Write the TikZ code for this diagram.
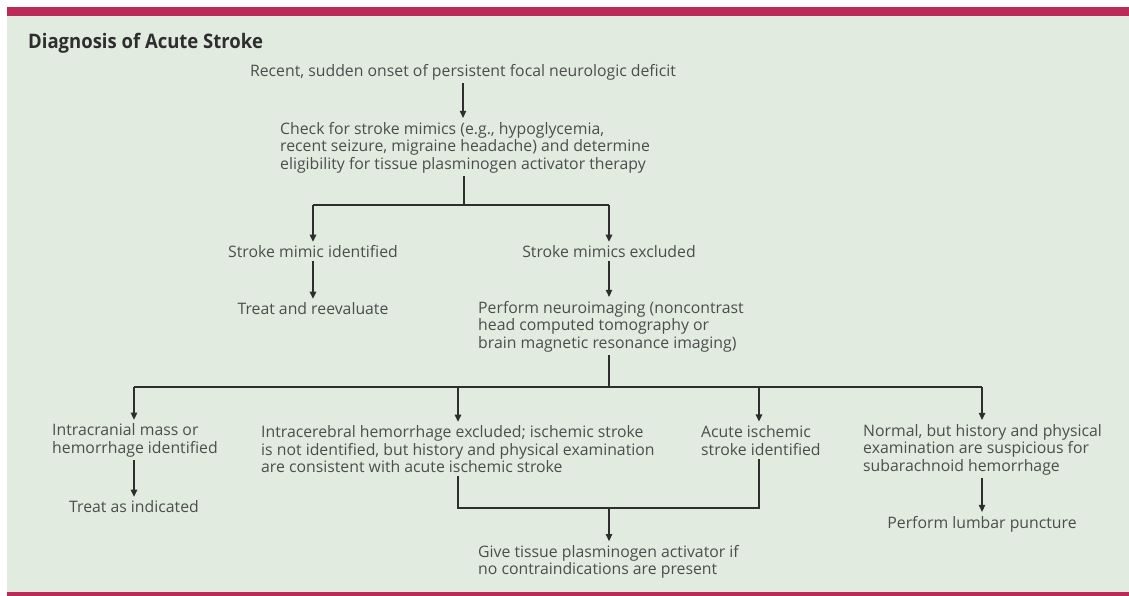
\documentclass[tikz,border=0pt]{standalone}
\usepackage{fontspec}
\setmainfont{Open Sans}
\newfontfamily\headfont[FakeStretch=0.925]{Open Sans}
\usetikzlibrary{arrows.meta,calc}
\definecolor{panel}{HTML}{E1EBE0}
\definecolor{band}{HTML}{BC2B58}
\definecolor{ink}{HTML}{4D4D4D}
\definecolor{wire}{HTML}{2E2E2E}
\begin{document}
\begin{tikzpicture}[x=1pt,y=-1pt,
  txt/.style={inner sep=0pt, text=ink, font=\fontsize{15.8}{17.5}\selectfont, align=left},
  ctxt/.style={txt, align=center},
  wireline/.style={draw=wire, line width=1.1pt},
  arr/.style={wireline, -{Triangle[length=7pt,width=6.5pt]}, shorten >=4pt, shorten <=3pt}]
\useasboundingbox (0,0) rectangle (1129,596);
% page frame
\fill[white] (0,0) rectangle (1129,596);
\fill[panel] (7,16) rectangle (1129,592);
\fill[band] (7,7) rectangle (1129,16);
\fill[band] (7,592) rectangle (1129,596);
% title
\node[anchor=base west, inner sep=0pt, text=wire, font=\headfont\fontsize{20}{24}\bfseries\selectfont] (title) at (28,48.5) {Diagnosis of Acute Stroke};
% text nodes
\node[ctxt] (onset) at (463,72) {Recent, sudden onset of persistent focal neurologic deficit};
\node[txt, anchor=west] (check) at (280,147.5) {Check for stroke mimics (e.g., hypoglycemia,\\recent seizure, migraine headache) and determine\\eligibility for tissue plasminogen activator therapy};
\node[ctxt] (mimicid) at (313,252) {Stroke mimic identified};
\node[ctxt] (mimicex) at (609,252) {Stroke mimics excluded};
\node[ctxt] (treatre) at (313,309) {Treat and reevaluate};
\node[txt, anchor=west] (neuro) at (478,326.5) {Perform neuroimaging (noncontrast\\head computed tomography or\\brain magnetic resonance imaging)};
\node[txt, anchor=west] (mass) at (52,440.5) {Intracranial mass or\\hemorrhage identified};
\node[txt, anchor=west] (ich) at (261,449.5) {Intracerebral hemorrhage excluded; ischemic stroke\\is not identified, but history and physical examination\\are consistent with acute ischemic stroke};
\node[txt, anchor=west] (ais) at (701,440.5) {Acute ischemic\\stroke identified};
\node[txt, anchor=west] (sah) at (863,449.5) {Normal, but history and physical\\examination are suspicious for\\subarachnoid hemorrhage};
\node[ctxt] (treatind) at (134,507) {Treat as indicated};
\node[ctxt] (lp) at (982,524) {Perform lumbar puncture};
\node[txt, anchor=west] (tpa) at (478,562) {Give tissue plasminogen activator if\\no contraindications are present};
% junction points
\coordinate (j1) at (464,205);
\coordinate (j2) at (609,387);
\coordinate (j3) at (609,508);
\coordinate (a1) at (134,0);
\coordinate (a2) at (458,0);
\coordinate (a3) at (759,0);
\coordinate (a4) at (982,0);
% connectors
\draw[arr] (onset.south) -- (onset.south |- check.north);
\draw[wireline, shorten <=3pt] (j1 |- check.south) -- (j1);
\draw[wireline] (j1 -| mimicid) -- (j1 -| mimicex);
\draw[arr, shorten <=0pt] (j1 -| mimicid) -- (mimicid.north);
\draw[arr, shorten <=0pt] (j1 -| mimicex) -- (mimicex.north);
\draw[arr] (mimicid.south) -- (treatre.north);
\draw[arr] (mimicex.south) -- (mimicex.south |- neuro.north);
\draw[wireline, shorten <=3pt] (j2 |- neuro.south) -- (j2);
\draw[wireline] (j2 -| a1) -- (j2 -| a4);
\draw[arr, shorten <=0pt] (j2 -| a1) -- (a1 |- mass.north);
\draw[arr, shorten <=0pt] (j2 -| a2) -- (a2 |- ich.north);
\draw[arr, shorten <=0pt] (j2 -| a3) -- (a3 |- ais.north);
\draw[arr, shorten <=0pt] (j2 -| a4) -- (a4 |- sah.north);
\draw[arr] (a1 |- mass.south) -- (treatind.north);
\draw[arr] (a4 |- sah.south) -- (lp.north);
\draw[wireline] ($(a2 |- ich.south)+(0,3)$) -- (j3 -| a2) -- (j3 -| a3) -- ($(a3 |- ais.south)+(0,3)$);
\draw[arr, shorten <=0pt] (j3) -- (j3 |- tpa.north);
\end{tikzpicture}
\end{document}
